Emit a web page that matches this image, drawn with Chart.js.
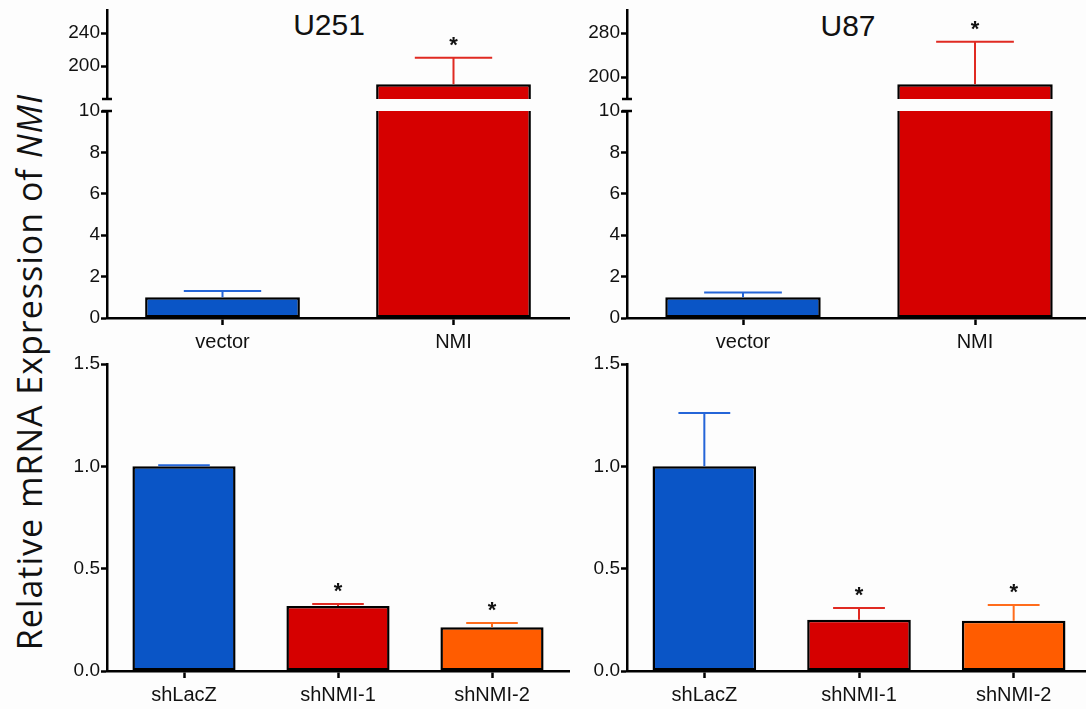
<!DOCTYPE html>
<html>
<head>
<meta charset="utf-8">
<script src="https://cdn.jsdelivr.net/npm/chart.js@4.4.0/dist/chart.umd.min.js"></script>
<style>
html, body { margin: 0; padding: 0; background: #fdfdfd; overflow: hidden; }
body { width: 1086px; height: 709px; position: relative; }
canvas { position: absolute; }
.title { position: absolute; font-family: Arial, "Liberation Sans", sans-serif; font-size: 30px; line-height: 30px; color: #111; transform: translateX(-50%); }
#ylabel { position: absolute; left: 29px; top: 372px; transform: translate(-50%, -50%) rotate(-90deg); white-space: nowrap;
  font-family: "Open Sans", sans-serif; font-size: 34px; line-height: 34px; letter-spacing: 1px; color: #111; }
</style>
</head>
<body>
<div id="ylabel">Relative mRNA Expression of <i>NMI</i></div>
<div class="title" style="left:329px; top:10px;">U251</div>
<div class="title" style="left:848px; top:11px;">U87</div>
<canvas id="u251_up"></canvas>
<canvas id="u251_low"></canvas>
<canvas id="u87_up"></canvas>
<canvas id="u87_low"></canvas>
<canvas id="u251_sh"></canvas>
<canvas id="u87_sh"></canvas>
<script>
// ---- data ----
const topCategories = ['vector', 'NMI'];
const bottomCategories = ['shLacZ', 'shNMI-1', 'shNMI-2'];

const u251TopValues = [1.0, 178];
const u251TopErrors = [0.3, 32];
const u87TopValues = [1.0, 187];
const u87TopErrors = [0.23, 77];
const topStars = ['', '*'];

const u251BottomValues = [1.0, 0.317, 0.214];
const u251BottomErrors = [0.005, 0.01, 0.02];
const u87BottomValues = [1.0, 0.25, 0.245];
const u87BottomErrors = [0.26, 0.058, 0.077];
const bottomStars = ['', '*', '*'];

const u251UpperRange = [160, 268];
const u87UpperRange = [160, 322];
const lowerRange = [0, 10];
const bottomRange = [0, 1.5];
const u251UpperTicks = [200, 240];
const u87UpperTicks = [200, 280];
const lowerTicks = [0, 2, 4, 6, 8, 10];
const bottomTicks = [0, 0.5, 1.0, 1.5];

const topColors = ['#0a55c6', '#d60000'];
const bottomColors = ['#0a55c6', '#d60000', '#ff5c00'];
const topErrColors = ['#2465d8', '#e02a22'];
const bottomErrColors = ['#2465d8', '#e02a22', '#ff6c1c'];

// ---- plugins ----
// error bars (upward only) and significance stars
const errorBars = {
  id: 'errorBars',
  afterDatasetsDraw(chart, args, opts) {
    const ctx = chart.ctx, a = chart.chartArea, y = chart.scales.y;
    chart.getDatasetMeta(0).data.forEach((bar, i) => {
      const v = opts.values[i];
      if (v == null) return;
      const top = y.getPixelForValue(v + opts.errors[i]);
      const base = y.getPixelForValue(v);
      const half = bar.width * 0.25;
      ctx.save();
      ctx.beginPath();
      ctx.rect(a.left, a.top, a.right - a.left, a.bottom - a.top);
      ctx.clip();
      ctx.strokeStyle = opts.colors[i];
      ctx.lineWidth = 2;
      ctx.beginPath();
      ctx.moveTo(bar.x, base);
      ctx.lineTo(bar.x, top);
      ctx.moveTo(bar.x - half, top);
      ctx.lineTo(bar.x + half, top);
      ctx.stroke();
      ctx.restore();
      if (opts.stars[i] && v <= y.max) {
        ctx.save();
        ctx.fillStyle = '#111';
        ctx.font = 'bold 22px Arial, "Liberation Sans", sans-serif';
        ctx.textAlign = 'center';
        ctx.textBaseline = 'alphabetic';
        ctx.fillText(opts.stars[i], bar.x, top - 6);
        ctx.restore();
      }
    });
  }
};

// short cap where the y axis is broken
const breakCap = {
  id: 'breakCap',
  afterDraw(chart, args, opts) {
    if (!opts.side) return;
    const ctx = chart.ctx, a = chart.chartArea;
    const yy = opts.side === 'bottom' ? a.bottom : a.top;
    ctx.save();
    ctx.strokeStyle = '#000';
    ctx.lineWidth = 2.5;
    ctx.beginPath();
    ctx.moveTo(a.left - 5, yy);
    ctx.lineTo(a.left + 5, yy);
    ctx.stroke();
    ctx.restore();
  }
};

const FONT = 'Arial, "Liberation Sans", sans-serif';

function makeChart(id, box, area, cfg) {
  const cv = document.getElementById(id);
  cv.width = box.w;
  cv.height = box.h;
  cv.style.left = box.x + 'px';
  cv.style.top = box.y + 'px';
  const xH = cfg.showX ? cfg.xHeight : 0;
  return new Chart(cv, {
    type: 'bar',
    data: {
      labels: cfg.labels,
      datasets: [{
        data: cfg.values,
        backgroundColor: cfg.colors,
        borderColor: '#000',
        borderWidth: 2.5,
        borderSkipped: false,
        barPercentage: 0.67,
        categoryPercentage: 1,
        clip: 0
      }]
    },
    options: {
      responsive: false,
      animation: false,
      events: [],
      layout: {
        padding: {
          left: 0,
          top: area.t - box.y,
          right: box.x + box.w - area.r,
          bottom: box.y + box.h - area.b - xH
        }
      },
      plugins: {
        legend: { display: false },
        tooltip: { enabled: false },
        errorBars: { values: cfg.values, errors: cfg.errors, colors: cfg.errColors, stars: cfg.stars },
        breakCap: { side: cfg.cap }
      },
      scales: {
        x: {
          display: cfg.showX,
          offset: true,
          grid: { offset: false, drawOnChartArea: false, drawTicks: true, tickLength: 7, tickWidth: 2.5, tickColor: '#000' },
          border: { display: true, color: '#000', width: 2.5 },
          ticks: { color: '#111', font: { family: FONT, size: 20 }, padding: 5 },
          afterFit: s => { s.height = xH; s.paddingLeft = 0; s.paddingRight = 0; }
        },
        y: {
          min: cfg.range[0],
          max: cfg.range[1],
          afterBuildTicks: s => { s.ticks = cfg.ticks.map(v => ({ value: v })); },
          grid: { drawOnChartArea: false, drawTicks: true, tickLength: 6, tickWidth: 2.5, tickColor: '#000' },
          border: { display: true, color: '#000', width: 2.5 },
          ticks: { color: '#111', font: { family: FONT, size: 19 }, padding: 1, callback: v => cfg.fmt(v) },
          afterFit: s => { s.width = area.l - box.x; s.paddingTop = 0; s.paddingBottom = 0; }
        }
      }
    },
    plugins: [errorBars, breakCap]
  });
}

const intFmt = v => String(v);
const decFmt = v => v.toFixed(1);
const upperOnly = (vals, lo) => vals.map(v => (v > lo ? v : null));

// U251 overexpression, broken axis
makeChart('u251_up', { x: 0, y: 0, w: 580, h: 104 }, { l: 107, t: 10, r: 569, b: 99 }, {
  labels: topCategories, values: upperOnly(u251TopValues, u251UpperRange[0]), errors: u251TopErrors,
  colors: topColors, errColors: topErrColors, stars: topStars,
  range: u251UpperRange, ticks: u251UpperTicks, fmt: intFmt, showX: false, cap: 'bottom'
});
makeChart('u251_low', { x: 0, y: 94, w: 580, h: 266 }, { l: 107, t: 111, r: 569, b: 318 }, {
  labels: topCategories, values: u251TopValues, errors: u251TopErrors,
  colors: topColors, errColors: topErrColors, stars: topStars,
  range: lowerRange, ticks: lowerTicks, fmt: intFmt, showX: true, xHeight: 40, cap: 'top'
});

// U87 overexpression, broken axis
makeChart('u87_up', { x: 580, y: 0, w: 520, h: 104 }, { l: 627, t: 10, r: 1091, b: 99 }, {
  labels: topCategories, values: upperOnly(u87TopValues, u87UpperRange[0]), errors: u87TopErrors,
  colors: topColors, errColors: topErrColors, stars: topStars,
  range: u87UpperRange, ticks: u87UpperTicks, fmt: intFmt, showX: false, cap: 'bottom'
});
makeChart('u87_low', { x: 580, y: 94, w: 520, h: 266 }, { l: 627, t: 111, r: 1091, b: 318 }, {
  labels: topCategories, values: u87TopValues, errors: u87TopErrors,
  colors: topColors, errColors: topErrColors, stars: topStars,
  range: lowerRange, ticks: lowerTicks, fmt: intFmt, showX: true, xHeight: 40, cap: 'top'
});

// knockdown panels
makeChart('u251_sh', { x: 0, y: 346, w: 580, h: 363 }, { l: 107, t: 364, r: 569, b: 671 }, {
  labels: bottomCategories, values: u251BottomValues, errors: u251BottomErrors,
  colors: bottomColors, errColors: bottomErrColors, stars: bottomStars,
  range: bottomRange, ticks: bottomTicks, fmt: decFmt, showX: true, xHeight: 38
});
makeChart('u87_sh', { x: 580, y: 346, w: 520, h: 363 }, { l: 627, t: 364, r: 1091, b: 671 }, {
  labels: bottomCategories, values: u87BottomValues, errors: u87BottomErrors,
  colors: bottomColors, errColors: bottomErrColors, stars: bottomStars,
  range: bottomRange, ticks: bottomTicks, fmt: decFmt, showX: true, xHeight: 38
});
</script>
</body>
</html>
